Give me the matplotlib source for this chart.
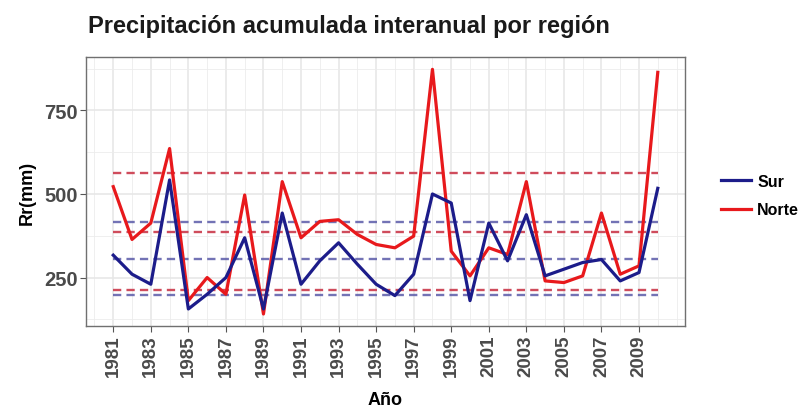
import matplotlib
matplotlib.use("Agg")
import matplotlib.pyplot as plt
from matplotlib.ticker import MultipleLocator, FixedLocator

plt.rcParams['font.family'] = ['Liberation Sans', 'DejaVu Sans']

years = list(range(1981, 2011))
sur = [317, 260, 230, 542, 156, 200, 250, 369, 156, 443, 230, 300, 354, 290, 230,
       196, 260, 500, 473, 181, 413, 300, 438, 255, 275, 295, 304, 240, 265, 517]
norte = [522, 364, 413, 636, 181, 250, 200, 497, 141, 537, 369, 418, 423, 379, 349,
         339, 374, 873, 329, 255, 339, 319, 537, 240, 235, 255, 443, 260, 285, 864]
sur_ref = [415, 307, 199]
norte_ref = [562, 387, 212]
xtick_labels = [str(y) for y in range(1981, 2010, 2)]
yticks = [250, 500, 750]

fig = plt.figure(figsize=(7.98, 4.14), dpi=100)
ax = fig.add_axes([0.1078, 0.2101, 0.8584 - 0.1078, 0.860 - 0.2101])

sur_col = '#1c1c8a'
norte_col = '#e8191c'
sur_ref_col = '#5a5aa8'
norte_ref_col = '#cf4c5c'

# grid
ax.set_axisbelow(True)
ax.xaxis.set_minor_locator(MultipleLocator(1))
ax.yaxis.set_minor_locator(FixedLocator([125, 375, 625, 875]))
ax.grid(which='major', color='#e6e6e6', lw=1.1)
ax.grid(which='minor', color='#ececec', lw=0.6)

# reference dashed lines
for v in norte_ref:
    ax.hlines(v, years[0], years[-1], colors=norte_ref_col, lw=1.7,
              linestyles=(0, (3.5, 2.2)), zorder=2)
for v in sur_ref:
    ax.hlines(v, years[0], years[-1], colors=sur_ref_col, lw=1.7, alpha=0.85,
              linestyles=(0, (3.5, 2.2)), zorder=2)

ax.plot(years, norte, color=norte_col, lw=2.3, label='Norte', zorder=3)
ax.plot(years, sur, color=sur_col, lw=2.3, label='Sur', zorder=4)

ax.set_xlim(years[0] - 1.45, years[-1] + 1.45)
ax.set_ylim(105, 910)
ax.set_xticks(range(1981, 2010, 2))
ax.set_xticklabels(xtick_labels, rotation=90, fontsize=13.5, fontweight='bold', color='#4a4a4a')
ax.set_yticks(yticks)
ax.set_yticklabels([str(v) for v in yticks], fontsize=14.5, fontweight='bold', color='#4a4a4a')
ax.tick_params(which='major', length=4, color='#555555', width=0.8, pad=2)
ax.tick_params(which='minor', length=0)

for s in ax.spines.values():
    s.set_color('#707070')
    s.set_linewidth(1.0)

ax.set_xlabel('Año', fontsize=13, fontweight='bold', labelpad=11)
ax.set_ylabel('Rr(mm)', fontsize=13, fontweight='bold', labelpad=6)

fig.text(0.110, 0.937, 'Precipitación acumulada interanual por región', fontsize=17,
         fontweight='bold', color='#1a1a1a', ha='left', va='center')

handles, labels = ax.get_legend_handles_labels()
order = [1, 0]
leg = fig.legend([handles[i] for i in order], [labels[i] for i in order],
                 loc='center left', bbox_to_anchor=(0.885, 0.525), frameon=False,
                 prop={'size': 11.5, 'weight': 'bold'}, handlelength=1.9,
                 handletextpad=0.4, labelspacing=0.85)

fig.savefig('out.png', dpi=100)
